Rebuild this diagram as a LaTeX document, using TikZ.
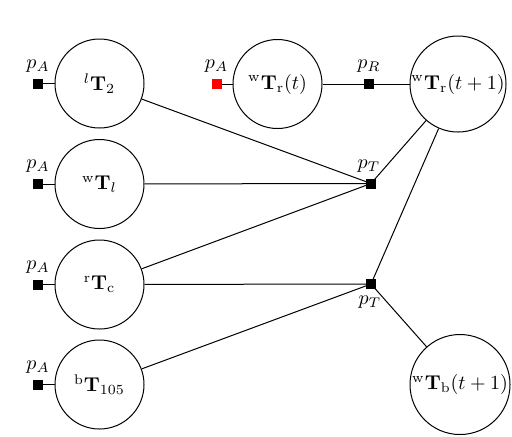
\documentclass[tikz,border=0pt]{standalone}
\usepackage{amsmath}
\begin{document}
\begin{tikzpicture}[x=0.5pt,y=-0.5pt,
  frame/.style={circle,draw,line width=0.5pt,inner sep=0pt,minimum size=44.5pt},
  anchorbox/.style={rectangle,fill=black,inner sep=0pt,minimum size=5pt},
  redbox/.style={rectangle,fill=red,inner sep=0pt,minimum size=5pt},
  lbl/.style={inner sep=0pt,font=\normalsize},
  conn/.style={line width=0.5pt}]
\useasboundingbox (0,0) rectangle (512,436);
% frame nodes
\node[frame] (l2) at (99.5,83.5) {$^{l}\mathbf{T}_2$};
\node[frame] (wl) at (99.5,184) {$^{\mathrm{w}}\mathbf{T}_{l}$};
\node[frame] (rc) at (99.5,284.5) {$^{\mathrm{r}}\mathbf{T}_{\mathrm{c}}$};
\node[frame] (b105) at (99.5,384.5) {$^{\mathrm{b}}\mathbf{T}_{105}$};
\node[frame] (wrt) at (277.5,84) {$^{\mathrm{w}}\mathbf{T}_{\mathrm{r}}(t)$};
\node[frame,minimum size=48pt] (wrt1) at (458,84) {$^{\mathrm{w}}\mathbf{T}_{\mathrm{r}}(t+1)$};
\node[frame,minimum size=50pt] (wbt1) at (460,384.5) {$^{\mathrm{w}}\mathbf{T}_{\mathrm{b}}(t+1)$};
% anchor boxes
\node[anchorbox] (a1) at (38,83.5) {};
\node[anchorbox] (a2) at (38,184) {};
\node[anchorbox] (a3) at (38,284.5) {};
\node[anchorbox] (a4) at (38,384.5) {};
\node[redbox] (a5) at (216.5,84) {};
\node[anchorbox] (pr) at (369,84) {};
\node[anchorbox] (pt1) at (371,183.5) {};
\node[anchorbox] (pt2) at (371,284) {};
% labels
\node[lbl] (la1) at (38,66) {$p_A$};
\node[lbl] (la2) at (38,166.5) {$p_A$};
\node[lbl] (la3) at (38,267) {$p_A$};
\node[lbl] (la4) at (38,367) {$p_A$};
\node[lbl] (la5) at (216.5,66) {$p_A$};
\node[lbl] (lpr) at (369,66) {$p_R$};
\node[lbl] (lpt1) at (369,166) {$p_T$};
\node[lbl] (lpt2) at (370,302) {$p_T$};
% connectors
\draw[conn] (a1) -- (l2);
\draw[conn] (a2) -- (wl);
\draw[conn] (a3) -- (rc);
\draw[conn] (a4) -- (b105);
\draw[conn] (a5) -- (wrt);
\draw[conn] (wrt) -- (pr) -- (wrt1);
\draw[conn] (l2) -- (pt1.center);
\draw[conn] (wl) -- (pt1.center);
\draw[conn] (rc) -- (pt1.center);
\draw[conn] (rc) -- (pt2.center);
\draw[conn] (b105) -- (pt2.center);
\draw[conn] (pt1.center) -- (wrt1);
\draw[conn] (pt2.center) -- (wrt1);
\draw[conn] (pt2.center) -- (wbt1);
\end{tikzpicture}
\end{document}
